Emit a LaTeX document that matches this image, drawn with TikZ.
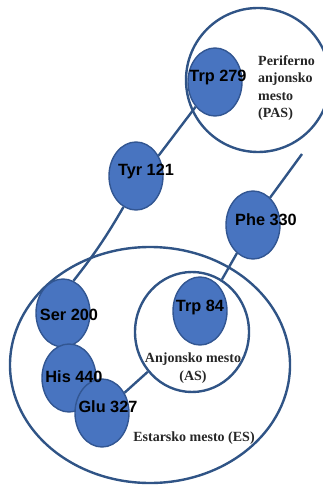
\documentclass[tikz,border=0pt]{standalone}
\usepackage{fontspec}
\setmainfont{Liberation Serif}
\setsansfont{Liberation Sans}
\usetikzlibrary{shapes.geometric}
\definecolor{resfill}{RGB}{72,116,192}
\definecolor{resedge}{RGB}{50,86,146}
\definecolor{siteline}{RGB}{48,84,134}
\begin{document}
\begin{tikzpicture}[x=1pt,y=-1pt,
  res/.style={ellipse, fill=resfill, draw=resedge, line width=1.4pt, minimum width=54pt, minimum height=68pt, inner sep=0pt},
  reslabel/.style={font=\sffamily\bfseries\fontsize{16.3}{18}\selectfont, text=black, inner sep=0pt},
  site/.style={draw=siteline, line width=2.4pt, inner sep=0pt},
  sitelabel/.style={font=\bfseries\fontsize{14}{17.5}\selectfont, text=black!85, inner sep=0pt},
  link/.style={draw=siteline, line width=2.4pt}]

\useasboundingbox (0,0) rectangle (323,486);

% sites
\node [site, ellipse, minimum width=280pt, minimum height=236pt] (es) at (150,365) {};
\node [site, ellipse, minimum width=114pt, minimum height=120pt] (as) at (192,332) {};
\node [site, circle, minimum size=144pt] (pas) at (258,80) {};

% residues
\node [res] (trp279) at (215,82) {};
\node [res] (tyr121) at (136,176) {};
\node [res] (phe330) at (253,225) {};
\node [res] (trp84) at (200,311) {};
\node [res] (ser200) at (63,313) {};
\node [res] (his440) at (69,378) {};
\node [res] (glu327) at (102,413) {};

\coordinate (pheend) at (302,154);

% links
\draw [link] (trp279.232) -- (tyr121.42);
\draw [link] (tyr121.248) to[bend left=4] (ser200.72);
\draw [link] (phe330.58) -- (pheend);
\draw [link] (phe330) -- (as);
\draw [link] (glu327) -- (as);

% labels
\node [reslabel] (ltrp279) at (218,78) {Trp 279};
\node [reslabel] (ltyr121) at (146,172) {Tyr 121};
\node [reslabel] (lphe330) at (266,220) {Phe 330};
\node [reslabel] (ltrp84) at (200,307) {Trp 84};
\node [reslabel] (lser200) at (69,315) {Ser 200};
\node [reslabel] (lhis440) at (74,377) {His 440};
\node [reslabel] (lglu327) at (108,407) {Glu 327};

\node [sitelabel, align=left, anchor=west] (lpas) at (258,88) {Periferno\\anjonsko\\mesto\\(PAS)};
\node [sitelabel, align=center] (las) at (193,368) {Anjonsko mesto\\(AS)};
\node [sitelabel] (les) at (194,438) {Estarsko mesto (ES)};

\end{tikzpicture}
\end{document}
